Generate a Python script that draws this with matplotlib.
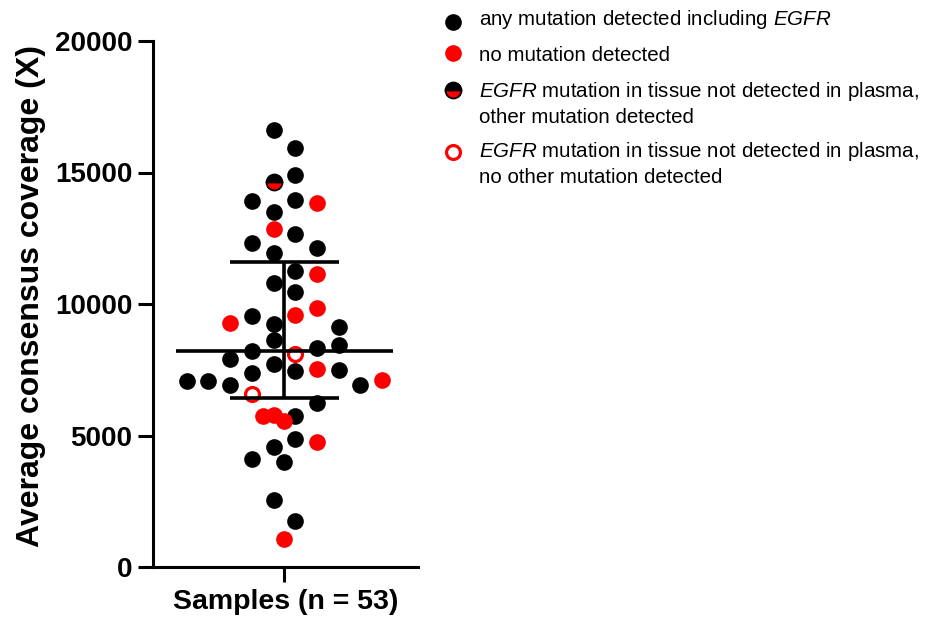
import numpy as np
import matplotlib.pyplot as plt

plt.rcParams['font.family'] = ['Liberation Sans', 'DejaVu Sans']
plt.rcParams['mathtext.fontset'] = 'custom'
plt.rcParams['mathtext.rm'] = 'Liberation Sans'
plt.rcParams['mathtext.it'] = 'Liberation Sans:italic'

# average consensus coverage of each sample
coverage = [16610, 15924, 14640, 14920, 13917, 13497, 13955, 13855,
            12305, 12838, 12648, 12126, 11924, 11250, 11150, 10781, 10465,
            9284, 9535, 9257, 9573, 9855, 9131,
            7912, 8229, 8622, 8103, 8330, 8457,
            7060, 7060, 6933, 7378, 7722, 7467, 7530, 7478, 6933, 7124,
            6579, 5790, 5752, 6236, 5726, 5535,
            4114, 4560, 4865, 4750, 3988, 2552, 1752, 1055]
# mutation status of each sample
status = ['any', 'any', 'tissue_other', 'any', 'any', 'any', 'any', 'none',
          'any', 'none', 'any', 'any', 'any', 'any', 'none', 'any', 'any',
          'none', 'any', 'any', 'none', 'none', 'any',
          'any', 'any', 'any', 'tissue_none', 'any', 'any',
          'any', 'any', 'any', 'any', 'any', 'any', 'none', 'any', 'any', 'none',
          'tissue_none', 'none', 'any', 'any', 'none', 'none',
          'any', 'any', 'any', 'none', 'any', 'any', 'any', 'none']

yticks = [0, 5000, 10000, 15000, 20000]
legend_order = ['any', 'none', 'tissue_other', 'tissue_none']
legend_lines = {
    'any': ['any mutation detected including $\\mathit{EGFR}$'],
    'none': ['no mutation detected'],
    'tissue_other': ['$\\mathit{EGFR}$ mutation in tissue not detected in plasma,',
                     'other mutation detected'],
    'tissue_none': ['$\\mathit{EGFR}$ mutation in tissue not detected in plasma,',
                    'no other mutation detected'],
}

RED = '#ff0000'
styles = {
    'any': dict(marker='o', ms=12, mfc='black', mec='black', mew=0),
    'none': dict(marker='o', ms=12, mfc=RED, mec=RED, mew=0),
    'tissue_other': dict(marker='o', ms=11.5, fillstyle='top', mfc='black',
                         mfcalt=RED, mec='black', mew=1.3),
    'tissue_none': dict(marker='o', ms=10, mfc='none', mec=RED, mew=2.3),
}


def swarm_offsets(values, bin_height, sx, sy, min_gap):
    # group values into horizontal bins from the top down and spread each bin
    # symmetrically around the centre; if a bin runs into the points above it,
    # slide it half a slot sideways
    values = np.asarray(values, float)
    order = np.argsort(-values, kind='stable')
    offsets = np.zeros(len(values))
    placed = []
    i = 0
    while i < len(order):
        top = values[order[i]]
        n = 1
        while i + n < len(order) and values[order[i + n]] > top - bin_height:
            n += 1
        members = np.array(sorted(order[i:i + n]))
        base = np.arange(n) - (n - 1) / 2
        py = values[members] * sy
        best, best_gap = 0.0, -1.0
        for shift in (0.0, -0.5, 0.5):
            px = (base + shift) * sx
            if placed:
                p = np.array(placed)
                gap = np.hypot(px[:, None] - p[:, 0], py[:, None] - p[:, 1]).min()
            else:
                gap = np.inf
            if shift == 0 and gap >= min_gap:
                best = 0.0
                break
            if gap > best_gap:
                best, best_gap = shift, gap
        offsets[members] = base + best
        placed.extend(zip((base + best) * sx, py))
        i += n
    return offsets


fig = plt.figure(figsize=(9.26, 6.24), dpi=100)
ax = fig.add_axes([153 / 926, 57 / 624, 265 / 926, 526 / 624])
ax.set_xlim(-6.05, 6.15)
ax.set_ylim(0, 20000)

# pixel size of one swarm slot and of one coverage unit
p0 = ax.transData.transform((0, 0))
p1 = ax.transData.transform((1, 1000))
sx, sy = p1[0] - p0[0], (p1[1] - p0[1]) / 1000

xs = swarm_offsets(coverage, 840, sx, sy, 16)
cov = np.array(coverage)
stat = np.array(status)
for key in legend_order:
    m = stat == key
    ax.plot(xs[m], cov[m], linestyle='none', clip_on=False, zorder=2, **styles[key])

q1, med, q3 = np.percentile(coverage, [25, 50, 75], method='weibull')
lw = 2.6
ax.hlines(med, -5.0, 5.0, color='black', lw=lw, zorder=3)
ax.hlines([q1, q3], -2.5, 2.5, color='black', lw=lw, zorder=3)
ax.vlines(0, q1, q3, color='black', lw=lw, zorder=3)

ax.set_yticks(yticks)
ax.set_xticks([0])
ax.set_xticklabels([''])
for s in ['top', 'right']:
    ax.spines[s].set_visible(False)
for s in ['left', 'bottom']:
    ax.spines[s].set_linewidth(2.2)
ax.tick_params(width=2.2, length=11, labelsize=20, pad=4)
for t in ax.get_yticklabels():
    t.set_fontweight('bold')

ax.set_ylabel('Average consensus coverage (X)', fontsize=23, fontweight='bold')
ax.yaxis.set_label_coords(-0.405, 0.515)
ax.set_xlabel('Samples (n = 53)', fontsize=20.5, fontweight='bold')
ax.xaxis.set_label_coords(0.5, -0.042)

# legend drawn on a full-figure overlay in pixel units
lax = fig.add_axes([0, 0, 1, 1])
lax.set_xlim(0, 926)
lax.set_ylim(624, 0)
lax.axis('off')
marker_y = [21.7, 53, 90, 152]
baseline_y = [25, 60.7, 97.3, 157.3]
for key, my, by in zip(legend_order, marker_y, baseline_y):
    lax.plot([453], [my], linestyle='none', **styles[key])
    for k, line in enumerate(legend_lines[key]):
        lax.text(479, by + 26 * k, line, fontsize=14.8, va='baseline', ha='left')

fig.savefig('out.png', dpi=100)
